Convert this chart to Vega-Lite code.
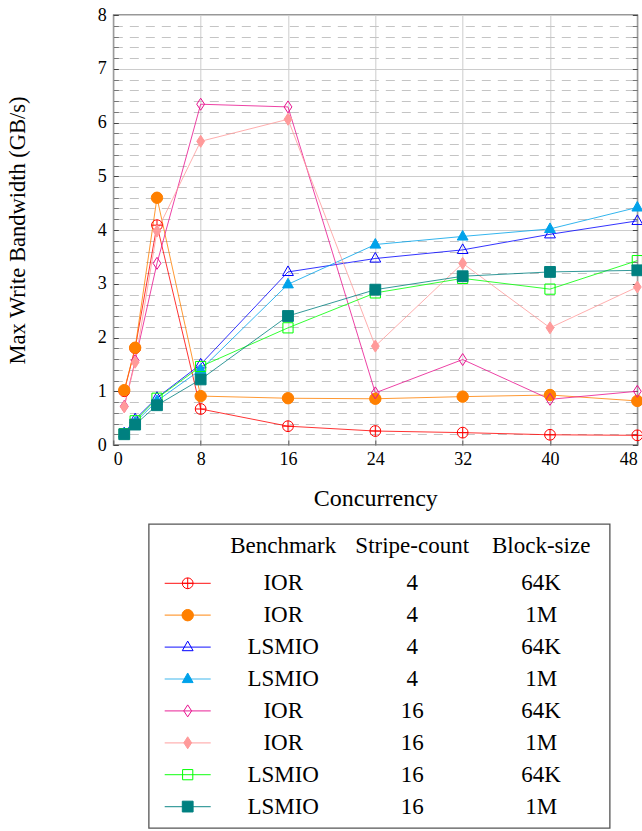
{
  "$schema": "https://vega.github.io/schema/vega-lite/v6.json",
  "background": "white",
  "padding": {"left": 5, "top": 5, "right": 2, "bottom": 0},
  "config": {
    "font": "Liberation Serif, DejaVu Serif, serif",
    "axis": {"labelColor": "black", "titleColor": "black", "titleFontWeight": "normal", "labelFont": "Liberation Serif, DejaVu Serif, serif", "titleFont": "Liberation Serif, DejaVu Serif, serif"},
    "text": {"font": "Liberation Serif, DejaVu Serif, serif"}
  },
  "center": true,
  "spacing": 12,
  "datasets": {
    "bw": [
      {"series": "IOR-4-64K", "concurrency": 1, "bandwidth": 1.0},
      {"series": "IOR-4-64K", "concurrency": 2, "bandwidth": 1.8},
      {"series": "IOR-4-64K", "concurrency": 4, "bandwidth": 4.09},
      {"series": "IOR-4-64K", "concurrency": 8, "bandwidth": 0.67},
      {"series": "IOR-4-64K", "concurrency": 16, "bandwidth": 0.35},
      {"series": "IOR-4-64K", "concurrency": 24, "bandwidth": 0.26},
      {"series": "IOR-4-64K", "concurrency": 32, "bandwidth": 0.23},
      {"series": "IOR-4-64K", "concurrency": 40, "bandwidth": 0.19},
      {"series": "IOR-4-64K", "concurrency": 48, "bandwidth": 0.18},
      {"series": "IOR-4-1M", "concurrency": 1, "bandwidth": 1.02},
      {"series": "IOR-4-1M", "concurrency": 2, "bandwidth": 1.81},
      {"series": "IOR-4-1M", "concurrency": 4, "bandwidth": 4.6},
      {"series": "IOR-4-1M", "concurrency": 8, "bandwidth": 0.91},
      {"series": "IOR-4-1M", "concurrency": 16, "bandwidth": 0.87},
      {"series": "IOR-4-1M", "concurrency": 24, "bandwidth": 0.86},
      {"series": "IOR-4-1M", "concurrency": 32, "bandwidth": 0.9},
      {"series": "IOR-4-1M", "concurrency": 40, "bandwidth": 0.93},
      {"series": "IOR-4-1M", "concurrency": 48, "bandwidth": 0.82},
      {"series": "LSMIO-4-64K", "concurrency": 1, "bandwidth": 0.22},
      {"series": "LSMIO-4-64K", "concurrency": 2, "bandwidth": 0.48},
      {"series": "LSMIO-4-64K", "concurrency": 4, "bandwidth": 0.88},
      {"series": "LSMIO-4-64K", "concurrency": 8, "bandwidth": 1.5},
      {"series": "LSMIO-4-64K", "concurrency": 16, "bandwidth": 3.22},
      {"series": "LSMIO-4-64K", "concurrency": 24, "bandwidth": 3.47},
      {"series": "LSMIO-4-64K", "concurrency": 32, "bandwidth": 3.63},
      {"series": "LSMIO-4-64K", "concurrency": 40, "bandwidth": 3.92},
      {"series": "LSMIO-4-64K", "concurrency": 48, "bandwidth": 4.17},
      {"series": "LSMIO-4-1M", "concurrency": 1, "bandwidth": 0.21},
      {"series": "LSMIO-4-1M", "concurrency": 2, "bandwidth": 0.42},
      {"series": "LSMIO-4-1M", "concurrency": 4, "bandwidth": 0.82},
      {"series": "LSMIO-4-1M", "concurrency": 8, "bandwidth": 1.4},
      {"series": "LSMIO-4-1M", "concurrency": 16, "bandwidth": 2.99},
      {"series": "LSMIO-4-1M", "concurrency": 24, "bandwidth": 3.73},
      {"series": "LSMIO-4-1M", "concurrency": 32, "bandwidth": 3.88},
      {"series": "LSMIO-4-1M", "concurrency": 40, "bandwidth": 4.02},
      {"series": "LSMIO-4-1M", "concurrency": 48, "bandwidth": 4.42},
      {"series": "IOR-16-64K", "concurrency": 1, "bandwidth": 0.72},
      {"series": "IOR-16-64K", "concurrency": 2, "bandwidth": 1.57},
      {"series": "IOR-16-64K", "concurrency": 4, "bandwidth": 3.38},
      {"series": "IOR-16-64K", "concurrency": 8, "bandwidth": 6.34},
      {"series": "IOR-16-64K", "concurrency": 16, "bandwidth": 6.29},
      {"series": "IOR-16-64K", "concurrency": 24, "bandwidth": 0.97},
      {"series": "IOR-16-64K", "concurrency": 32, "bandwidth": 1.59},
      {"series": "IOR-16-64K", "concurrency": 40, "bandwidth": 0.85},
      {"series": "IOR-16-64K", "concurrency": 48, "bandwidth": 1.0},
      {"series": "IOR-16-1M", "concurrency": 1, "bandwidth": 0.71},
      {"series": "IOR-16-1M", "concurrency": 2, "bandwidth": 1.54},
      {"series": "IOR-16-1M", "concurrency": 4, "bandwidth": 3.98},
      {"series": "IOR-16-1M", "concurrency": 8, "bandwidth": 5.65},
      {"series": "IOR-16-1M", "concurrency": 16, "bandwidth": 6.06},
      {"series": "IOR-16-1M", "concurrency": 24, "bandwidth": 1.84},
      {"series": "IOR-16-1M", "concurrency": 32, "bandwidth": 3.38},
      {"series": "IOR-16-1M", "concurrency": 40, "bandwidth": 2.18},
      {"series": "IOR-16-1M", "concurrency": 48, "bandwidth": 2.94},
      {"series": "LSMIO-16-64K", "concurrency": 1, "bandwidth": 0.21},
      {"series": "LSMIO-16-64K", "concurrency": 2, "bandwidth": 0.45},
      {"series": "LSMIO-16-64K", "concurrency": 4, "bandwidth": 0.87},
      {"series": "LSMIO-16-64K", "concurrency": 8, "bandwidth": 1.46},
      {"series": "LSMIO-16-64K", "concurrency": 16, "bandwidth": 2.18},
      {"series": "LSMIO-16-64K", "concurrency": 24, "bandwidth": 2.83},
      {"series": "LSMIO-16-64K", "concurrency": 32, "bandwidth": 3.1},
      {"series": "LSMIO-16-64K", "concurrency": 40, "bandwidth": 2.9},
      {"series": "LSMIO-16-64K", "concurrency": 48, "bandwidth": 3.43},
      {"series": "LSMIO-16-1M", "concurrency": 1, "bandwidth": 0.2},
      {"series": "LSMIO-16-1M", "concurrency": 2, "bandwidth": 0.38},
      {"series": "LSMIO-16-1M", "concurrency": 4, "bandwidth": 0.74},
      {"series": "LSMIO-16-1M", "concurrency": 8, "bandwidth": 1.22},
      {"series": "LSMIO-16-1M", "concurrency": 16, "bandwidth": 2.4},
      {"series": "LSMIO-16-1M", "concurrency": 24, "bandwidth": 2.89},
      {"series": "LSMIO-16-1M", "concurrency": 32, "bandwidth": 3.14},
      {"series": "LSMIO-16-1M", "concurrency": 40, "bandwidth": 3.22},
      {"series": "LSMIO-16-1M", "concurrency": 48, "bandwidth": 3.25}
    ],
    "series": [
      {"series": "IOR-4-64K", "Benchmark": "IOR", "Stripe-count": "4", "Block-size": "64K"},
      {"series": "IOR-4-1M", "Benchmark": "IOR", "Stripe-count": "4", "Block-size": "1M"},
      {"series": "LSMIO-4-64K", "Benchmark": "LSMIO", "Stripe-count": "4", "Block-size": "64K"},
      {"series": "LSMIO-4-1M", "Benchmark": "LSMIO", "Stripe-count": "4", "Block-size": "1M"},
      {"series": "IOR-16-64K", "Benchmark": "IOR", "Stripe-count": "16", "Block-size": "64K"},
      {"series": "IOR-16-1M", "Benchmark": "IOR", "Stripe-count": "16", "Block-size": "1M"},
      {"series": "LSMIO-16-64K", "Benchmark": "LSMIO", "Stripe-count": "16", "Block-size": "64K"},
      {"series": "LSMIO-16-1M", "Benchmark": "LSMIO", "Stripe-count": "16", "Block-size": "1M"}
    ],
    "header": [
      {"column": "Benchmark"},
      {"column": "Stripe-count"},
      {"column": "Block-size"}
    ]
  },
  "vconcat": [
    {
      "width": 524,
      "height": 430,
      "view": {"stroke": "#333", "strokeWidth": 1.3},
      "data": {"name": "bw"},
      "encoding": {
        "x": {
          "field": "concurrency", "type": "quantitative",
          "scale": {"domain": [0, 48], "nice": false},
          "axis": {
            "values": [0, 8, 16, 24, 32, 40, 48],
            "title": "Concurrency", "titleFontSize": 24, "titlePadding": 18,
            "labelFontSize": 18, "labelPadding": 10,
            "grid": true, "gridColor": "#cccccc", "gridWidth": 1,
            "domain": false, "tickSize": -5, "tickColor": "#555"
          }
        }
      },
      "layer": [
        {
          "mark": {"type": "line", "strokeWidth": 1, "opacity": 0.8},
          "encoding": {
            "y": {
              "field": "bandwidth", "type": "quantitative",
              "scale": {"domain": [0, 8], "nice": false},
              "axis": {
                "orient": "left",
                "values": [0, 0.2, 0.4, 0.6, 0.8, 1, 1.2, 1.4, 1.6, 1.8, 2, 2.2, 2.4, 2.6, 2.8, 3, 3.2, 3.4, 3.6, 3.8, 4, 4.2, 4.4, 4.6, 4.8, 5, 5.2, 5.4, 5.6, 5.8, 6, 6.2, 6.4, 6.6, 6.8, 7, 7.2, 7.4, 7.6, 7.8, 8],
                "labelExpr": "datum.value % 1 === 0 ? format(datum.value, 'd') : ''",
                "title": "Max Write Bandwidth (GB/s)", "titleFontSize": 22.5, "titlePadding": 68,
                "labelFontSize": 18, "labelPadding": 12,
                "grid": true,
                "gridColor": {"condition": {"test": "datum.value % 1 === 0", "value": "#cccccc"}, "value": "#c4c4c4"},
                "gridDash": {"condition": {"test": "datum.value % 1 === 0", "value": []}, "value": [9, 7]},
                "domain": false, "tickSize": -5,
                "tickColor": {"condition": {"test": "datum.value % 1 === 0", "value": "#444"}, "value": "#777"}
              }
            },
            "color": {
              "field": "series", "type": "nominal", "legend": null,
              "scale": {
                "domain": ["IOR-4-64K", "IOR-4-1M", "LSMIO-4-64K", "LSMIO-4-1M", "IOR-16-64K", "IOR-16-1M", "LSMIO-16-64K", "LSMIO-16-1M"],
                "range": ["#ff0000", "#ff8000", "#0000ff", "#00a2ea", "#e8138f", "#ff9a9a", "#00ff00", "#008080"]
              }
            },
            "detail": {"field": "series"}
          }
        },
        {
          "mark": {"type": "point", "size": 144, "strokeWidth": 1, "opacity": 1},
          "encoding": {
            "y": {"field": "bandwidth", "type": "quantitative", "scale": {"domain": [0, 8], "nice": false}, "axis": null},
            "stroke": {
              "field": "series", "type": "nominal", "legend": null,
              "scale": {
                "domain": ["IOR-4-64K", "IOR-4-1M", "LSMIO-4-64K", "LSMIO-4-1M", "IOR-16-64K", "IOR-16-1M", "LSMIO-16-64K", "LSMIO-16-1M"],
                "range": ["#ff0000", "#ff8000", "#0000ff", "#00a2ea", "#e8138f", "#ff9a9a", "#00ff00", "#008080"]
              }
            },
            "fill": {
              "field": "series", "type": "nominal", "legend": null,
              "scale": {
                "domain": ["IOR-4-64K", "IOR-4-1M", "LSMIO-4-64K", "LSMIO-4-1M", "IOR-16-64K", "IOR-16-1M", "LSMIO-16-64K", "LSMIO-16-1M"],
                "range": ["transparent", "#ff8000", "transparent", "#00a2ea", "transparent", "#ff9a9a", "transparent", "#008080"]
              }
            },
            "shape": {
              "field": "series", "type": "nominal", "legend": null,
              "scale": {
                "domain": ["IOR-4-64K", "IOR-4-1M", "LSMIO-4-64K", "LSMIO-4-1M", "IOR-16-64K", "IOR-16-1M", "LSMIO-16-64K", "LSMIO-16-1M"],
                "range": [
                  "M-0.9,0A0.9,0.9,0,1,1,0.9,0A0.9,0.9,0,1,1,-0.9,0M-0.9,0L0.9,0M0,-0.9L0,0.9",
                  "M-0.95,0A0.95,0.95,0,1,1,0.95,0A0.95,0.95,0,1,1,-0.95,0Z",
                  "M0,-1L0.9,0.6L-0.9,0.6Z",
                  "M0,-1L0.9,0.6L-0.9,0.6Z",
                  "M0,-1L0.65,0L0,1L-0.65,0Z",
                  "M0,-1L0.65,0L0,1L-0.65,0Z",
                  "M-0.85,-0.85L0.85,-0.85L0.85,0.85L-0.85,0.85Z",
                  "M-0.9,-0.9L0.9,-0.9L0.9,0.9L-0.9,0.9Z"
                ]
              }
            }
          }
        },
        {
          "mark": {"type": "point", "opacity": 0},
          "encoding": {
            "y": {
              "field": "bandwidth", "type": "quantitative", "scale": {"domain": [0, 8], "nice": false},
              "axis": {
                "orient": "right", "title": null, "labels": false, "grid": false, "domain": false,
                "values": [0, 0.2, 0.4, 0.6, 0.8, 1, 1.2, 1.4, 1.6, 1.8, 2, 2.2, 2.4, 2.6, 2.8, 3, 3.2, 3.4, 3.6, 3.8, 4, 4.2, 4.4, 4.6, 4.8, 5, 5.2, 5.4, 5.6, 5.8, 6, 6.2, 6.4, 6.6, 6.8, 7, 7.2, 7.4, 7.6, 7.8, 8],
                "tickSize": -5,
                "tickColor": {"condition": {"test": "datum.value % 1 === 0", "value": "#444"}, "value": "#777"}
              }
            }
          }
        }
      ],
      "resolve": {"axis": {"y": "independent"}}
    },
    {
      "width": 461,
      "height": 304,
      "view": {"stroke": "#555", "strokeWidth": 1.3},
      "data": {"name": "series"},
      "encoding": {
        "y": {
          "field": "series", "type": "nominal", "axis": null,
          "scale": {"type": "band", "domain": ["IOR-4-64K", "IOR-4-1M", "LSMIO-4-64K", "LSMIO-4-1M", "IOR-16-64K", "IOR-16-1M", "LSMIO-16-64K", "LSMIO-16-1M"], "paddingInner": 0, "paddingOuter": 0.765, "align": 0.888}
        }
      },
      "layer": [
        {
          "mark": {"type": "point", "shape": "M-1,0L1,0", "size": 2116, "strokeWidth": 1.2, "opacity": 0.75, "xOffset": -95.5},
          "encoding": {
            "x": {"datum": "Benchmark", "type": "nominal", "axis": null,
              "scale": {"type": "point", "domain": ["Benchmark", "Stripe-count", "Block-size"], "padding": 0.787, "align": 0.6626}},
            "stroke": {
              "field": "series", "type": "nominal", "legend": null,
              "scale": {
                "domain": ["IOR-4-64K", "IOR-4-1M", "LSMIO-4-64K", "LSMIO-4-1M", "IOR-16-64K", "IOR-16-1M", "LSMIO-16-64K", "LSMIO-16-1M"],
                "range": ["#ff0000", "#ff8000", "#0000ff", "#00a2ea", "#e8138f", "#ff9a9a", "#00ff00", "#008080"]
              }
            }
          }
        },
        {
          "mark": {"type": "point", "size": 144, "strokeWidth": 1, "opacity": 1, "xOffset": -95.5},
          "encoding": {
            "x": {"datum": "Benchmark", "type": "nominal"},
            "stroke": {"field": "series", "type": "nominal", "legend": null},
            "fill": {
              "field": "series", "type": "nominal", "legend": null,
              "scale": {
                "domain": ["IOR-4-64K", "IOR-4-1M", "LSMIO-4-64K", "LSMIO-4-1M", "IOR-16-64K", "IOR-16-1M", "LSMIO-16-64K", "LSMIO-16-1M"],
                "range": ["transparent", "#ff8000", "transparent", "#00a2ea", "transparent", "#ff9a9a", "transparent", "#008080"]
              }
            },
            "shape": {
              "field": "series", "type": "nominal", "legend": null,
              "scale": {
                "domain": ["IOR-4-64K", "IOR-4-1M", "LSMIO-4-64K", "LSMIO-4-1M", "IOR-16-64K", "IOR-16-1M", "LSMIO-16-64K", "LSMIO-16-1M"],
                "range": [
                  "M-0.9,0A0.9,0.9,0,1,1,0.9,0A0.9,0.9,0,1,1,-0.9,0M-0.9,0L0.9,0M0,-0.9L0,0.9",
                  "M-0.95,0A0.95,0.95,0,1,1,0.95,0A0.95,0.95,0,1,1,-0.95,0Z",
                  "M0,-1L0.9,0.6L-0.9,0.6Z",
                  "M0,-1L0.9,0.6L-0.9,0.6Z",
                  "M0,-1L0.65,0L0,1L-0.65,0Z",
                  "M0,-1L0.65,0L0,1L-0.65,0Z",
                  "M-0.85,-0.85L0.85,-0.85L0.85,0.85L-0.85,0.85Z",
                  "M-0.9,-0.9L0.9,-0.9L0.9,0.9L-0.9,0.9Z"
                ]
              }
            }
          }
        },
        {
          "transform": [{"fold": ["Benchmark", "Stripe-count", "Block-size"], "as": ["column", "value"]}],
          "mark": {"type": "text", "fontSize": 23, "color": "black", "align": "center", "baseline": "middle", "font": "Liberation Serif, DejaVu Serif, serif"},
          "encoding": {
            "x": {"field": "column", "type": "nominal"},
            "text": {"field": "value"}
          }
        },
        {
          "data": {"name": "header"},
          "mark": {"type": "text", "fontSize": 23, "color": "black", "align": "center", "baseline": "middle", "dy": -37.6, "font": "Liberation Serif, DejaVu Serif, serif"},
          "encoding": {
            "x": {"field": "column", "type": "nominal"},
            "y": {"datum": "IOR-4-64K", "type": "nominal"},
            "text": {"field": "column"}
          }
        }
      ]
    }
  ]
}
